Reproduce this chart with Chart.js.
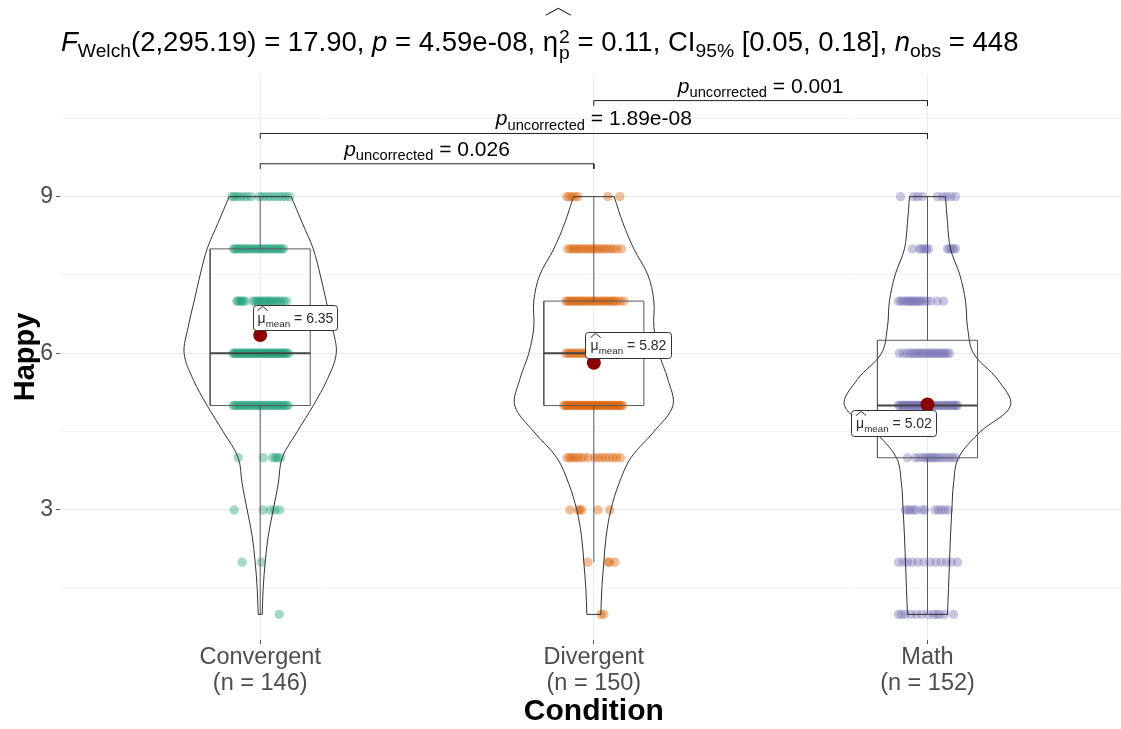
<!DOCTYPE html>
<html><head><meta charset="utf-8">
<script src="https://cdn.jsdelivr.net/npm/chart.js@4.4.0/dist/chart.umd.min.js"></script>
<style>html,body{margin:0;padding:0;background:#fff}#wrap{width:1121px;height:729px}</style>
</head><body><div id="wrap"><canvas id="c" width="1121" height="729"></canvas></div>
<script>
// ---------------- data ----------------
const categories = ['Convergent', 'Divergent', 'Math'];
const groupN = [146, 150, 152];
const groupColors = ['27,158,119', '217,95,2', '117,112,179'];
const levels = [1, 2, 3, 4, 5, 6, 7, 8, 9];

// jittered x offsets of the raw points, one list per Happy level 1..9
const convergentJitter = [
  [0.057],
  [-0.054, 0.003],
  [-0.078, 0.009, 0.031, 0.044, 0.058],
  [-0.066, 0.009, 0.037, 0.046, 0.052, 0.061],
  [-0.081,-0.076,-0.071,-0.064,-0.059,-0.054,-0.048,-0.043,-0.036,-0.031,-0.026,-0.019,-0.013,-0.008,-0.003,0.004,0.009,0.015,0.021,0.027,0.032,0.039,0.044,0.05,0.055,0.061,0.066,0.072,0.078,0.084],
  [-0.082,-0.078,-0.073,-0.07,-0.064,-0.06,-0.055,-0.051,-0.047,-0.042,-0.037,-0.033,-0.029,-0.024,-0.019,-0.015,-0.011,-0.006,-0.002,0.003,0.008,0.012,0.017,0.021,0.026,0.03,0.035,0.04,0.044,0.049,0.053,0.058,0.062,0.067,0.071,0.075,0.08,0.085],
  [-0.07,-0.066,-0.06,-0.056,-0.05,-0.044,-0.021,-0.015,-0.009,-0.004,0.002,0.008,0.013,0.019,0.025,0.03,0.036,0.043,0.049,0.056,0.063,0.071,0.079],
  [-0.08,-0.075,-0.07,-0.063,-0.057,-0.051,-0.044,-0.038,-0.031,-0.025,-0.018,-0.012,-0.005,0.001,0.007,0.013,0.02,0.026,0.032,0.039,0.045,0.051,0.058,0.064,0.07],
  [-0.085,-0.078,-0.07,-0.061,-0.05,-0.04,-0.027,-0.002,0.008,0.02,0.031,0.043,0.055,0.066,0.077,0.088]
];
const divergentJitter = [
  [0.021, 0.03],
  [-0.018, 0.042, 0.047, 0.063],
  [-0.072, -0.047, -0.042, -0.036, 0.012, 0.048],
  [-0.08,-0.073,-0.066,-0.058,-0.049,-0.041,-0.03,-0.017,0.002,0.013,0.024,0.034,0.046,0.057,0.068,0.08],
  [-0.09,-0.086,-0.082,-0.077,-0.073,-0.068,-0.063,-0.059,-0.055,-0.05,-0.046,-0.041,-0.037,-0.033,-0.028,-0.024,-0.019,-0.015,-0.01,-0.006,-0.002,0.003,0.007,0.012,0.016,0.02,0.025,0.029,0.034,0.038,0.043,0.047,0.051,0.056,0.06,0.065,0.069,0.073,0.078,0.082,0.087],
  [-0.084,-0.078,-0.071,-0.064,-0.058,-0.051,-0.044,-0.037,-0.03,-0.023,-0.015,-0.008,-0.001,0.006,0.013,0.02,0.027,0.034,0.041,0.048,0.055,0.062,0.069,0.076,0.083],
  [-0.084,-0.079,-0.073,-0.067,-0.062,-0.056,-0.05,-0.044,-0.038,-0.033,-0.027,-0.021,-0.015,-0.009,-0.003,0.003,0.009,0.015,0.021,0.027,0.033,0.039,0.045,0.051,0.057,0.063,0.069,0.079,0.09],
  [-0.078,-0.07,-0.062,-0.055,-0.047,-0.04,-0.032,-0.024,-0.017,-0.009,-0.001,0.007,0.015,0.023,0.031,0.04,0.049,0.058,0.069,0.083],
  [-0.081,-0.074,-0.066,-0.057,-0.048,0.042,0.078]
];
const mathJitter = [
  [-0.087,-0.078,-0.066,-0.05,-0.033,-0.017,0.002,0.018,0.028,0.036,0.051,0.078],
  [-0.087,-0.072,-0.06,-0.046,-0.029,-0.011,0.008,0.025,0.041,0.057,0.072,0.09],
  [-0.066,-0.058,-0.051,-0.042,-0.034,-0.016,-0.008,0.023,0.033,0.042,0.052,0.063],
  [-0.06,-0.036,-0.025,-0.013,-0.005,0.003,0.008,0.015,0.021,0.028,0.036,0.045,0.055,0.064,0.075,0.084],
  [-0.087,-0.083,-0.078,-0.074,-0.07,-0.066,-0.062,-0.058,-0.054,-0.05,-0.046,-0.042,-0.038,-0.034,-0.03,-0.026,-0.022,-0.018,-0.014,-0.01,-0.006,-0.002,0.003,0.008,0.013,0.018,0.024,0.029,0.035,0.041,0.046,0.052,0.057,0.062,0.067,0.072,0.077,0.082,0.086,0.09],
  [-0.084,-0.072,-0.061,-0.052,-0.045,-0.038,-0.031,-0.024,-0.018,-0.012,-0.005,0.002,0.008,0.014,0.02,0.026,0.033,0.04,0.046,0.052,0.059,0.066],
  [-0.087,-0.08,-0.073,-0.066,-0.06,-0.055,-0.05,-0.045,-0.04,-0.035,-0.03,-0.024,-0.018,-0.01,-0.002,0.01,0.03,0.048],
  [-0.045,-0.024,-0.018,-0.01,-0.003,0.003,0.06,0.066,0.072,0.078,0.084],
  [-0.081,-0.042,-0.03,-0.015,0.03,0.045,0.057,0.07,0.084]
];

// violin half-widths (x units) at Happy = 1, 1.5, ..., 9
const violinY = [1,1.5,2,2.5,3,3.5,4,4.5,5,5.5,6,6.5,7,7.5,8,8.5,9];
const convergentHalfWidth = [0.006,0.009,0.015,0.024,0.039,0.054,0.066,0.111,0.159,0.201,0.228,0.216,0.198,0.180,0.159,0.126,0.093];
const divergentHalfWidth  = [0.021,0.024,0.030,0.037,0.051,0.075,0.111,0.180,0.237,0.222,0.195,0.180,0.180,0.162,0.120,0.087,0.061];
const mathHalfWidth       = [0.060,0.063,0.066,0.069,0.073,0.078,0.093,0.159,0.249,0.210,0.138,0.120,0.114,0.097,0.069,0.060,0.054];

// box plot statistics
const boxQ1 = [5, 5, 4];
const boxMedian = [6, 6, 5];
const boxQ3 = [8, 7, 6.25];
const whiskerLow = [1, 2, 1];
const whiskerHigh = [9, 9, 9];
const groupMeans = [6.35, 5.82, 5.02];

// pairwise comparisons
const pairFrom = [1, 1, 2];
const pairTo = [2, 3, 3];
const pairY = [9.63, 10.21, 10.84];
const pairP = ['0.026', '1.89e-08', '0.001'];

const yMajorTicks = [3, 6, 9];
const yMinorTicks = [1.5, 4.5, 7.5, 10.5];

// ---------------- drawing ----------------
const FONT = '"Liberation Sans", Arial, Helvetica, sans-serif';
Chart.defaults.font.family = FONT;

const jitters = [convergentJitter, divergentJitter, mathJitter];
const halfWidths = [convergentHalfWidth, divergentHalfWidth, mathHalfWidth];
const BOX_HW = 0.15;
const datasets = [];
const lineDs = (data, color, width, order, tension) => ({
  type: 'scatter', data, showLine: true, borderColor: color, borderWidth: width,
  pointRadius: 0, fill: false, tension: tension || 0, order
});

categories.forEach((c, gi) => {
  const g = gi + 1;
  const pts = [];
  jitters[gi].forEach((offs, li) => offs.forEach(o => pts.push({ x: g + o, y: levels[li] })));
  datasets.push({ type: 'scatter', data: pts, pointRadius: 4.7, pointBorderWidth: 0,
    backgroundColor: `rgba(${groupColors[gi]},0.4)`, borderColor: 'rgba(0,0,0,0)', order: 10 });
  const hw = halfWidths[gi];
  const last = violinY.length - 1;
  datasets.push(lineDs(violinY.map((y, i) => ({ x: g + hw[i], y })), '#333', 1, 8, 0.35));
  datasets.push(lineDs(violinY.map((y, i) => ({ x: g - hw[i], y })), '#333', 1, 8, 0.35));
  datasets.push(lineDs([{ x: g - hw[last], y: violinY[last] }, { x: g + hw[last], y: violinY[last] }], '#333', 1, 8));
  datasets.push(lineDs([{ x: g - hw[0], y: violinY[0] }, { x: g + hw[0], y: violinY[0] }], '#333', 1, 8));
  // box
  datasets.push(lineDs([{ x: g - BOX_HW, y: boxQ1[gi] }, { x: g + BOX_HW, y: boxQ1[gi] }, { x: g + BOX_HW, y: boxQ3[gi] },
    { x: g - BOX_HW, y: boxQ3[gi] }, { x: g - BOX_HW, y: boxQ1[gi] }], '#5c5c5c', 1, 6));
  datasets.push(lineDs([{ x: g, y: boxQ3[gi] }, { x: g, y: whiskerHigh[gi] }], '#5c5c5c', 1, 6));
  datasets.push(lineDs([{ x: g, y: whiskerLow[gi] }, { x: g, y: boxQ1[gi] }], '#5c5c5c', 1, 6));
  datasets.push(lineDs([{ x: g - BOX_HW, y: boxMedian[gi] }, { x: g + BOX_HW, y: boxMedian[gi] }], '#444', 2, 5));
});
pairFrom.forEach((a, i) => {
  const y = pairY[i];
  datasets.push(lineDs([{ x: a, y: y - 0.1 }, { x: a, y }, { x: pairTo[i], y }, { x: pairTo[i], y: y - 0.1 }], '#222', 1, 4));
});
datasets.push({ type: 'scatter', data: groupMeans.map((m, i) => ({ x: i + 1, y: m })), pointRadius: 7,
  backgroundColor: '#8b0000', borderColor: '#8b0000', pointBorderWidth: 0, order: 1 });

// rich text helpers
function pFont(p, size) {
  const s = (p.sub || p.sup) ? size * 0.7 : size;
  return `${p.it ? 'italic ' : ''}${s}px ${FONT}`;
}
function measureParts(ctx, parts, size) {
  let w = 0;
  for (const p of parts) {
    if (p.hatsym) {
      ctx.font = `${size}px ${FONT}`;
      p._ew = ctx.measureText(p.hatsym).width;
      p._w = p._ew;
      if (p.supsub) { ctx.font = `${size * 0.7}px ${FONT}`; p._w += Math.max(ctx.measureText(p.supsub[0]).width, ctx.measureText(p.supsub[1]).width) + 1; }
    } else { ctx.font = pFont(p, size); p._w = ctx.measureText(p.t).width; }
    w += p._w;
  }
  return w;
}
function drawHat(ctx, x0, x1, yBase, h) {
  ctx.save(); ctx.strokeStyle = ctx.fillStyle; ctx.lineWidth = 1;
  ctx.beginPath(); ctx.moveTo(x0, yBase); ctx.lineTo((x0 + x1) / 2, yBase - h); ctx.lineTo(x1, yBase); ctx.stroke(); ctx.restore();
}
function drawParts(ctx, parts, x, y, size, opt) {
  let cx = x;
  ctx.textAlign = 'left'; ctx.textBaseline = 'alphabetic';
  for (const p of parts) {
    if (p.hatsym) {
      ctx.font = `${size}px ${FONT}`;
      ctx.fillText(p.hatsym, cx, y);
      if (p.supsub) {
        ctx.font = `${size * 0.7}px ${FONT}`;
        ctx.fillText(p.supsub[0], cx + p._ew + 1, y - size * 0.3);
        ctx.fillText(p.supsub[1], cx + p._ew + 1, y + size * 0.3);
        drawHat(ctx, cx + 3, cx + p._w + 1, y - size * 1.3, size * 0.25);
      } else {
        drawHat(ctx, cx, cx + p._ew + 2, y - size * 0.85, size * 0.3);
      }
    } else {
      ctx.font = pFont(p, size);
      ctx.fillText(p.t, cx, y + (p.sub ? size * (opt && opt.subDy || 0.24) : 0));
    }
    cx += p._w;
  }
}

const titleParts = [
  { t: 'F', it: 1 }, { t: 'Welch', sub: 1 }, { t: '(2,295.19) = 17.90, ' }, { t: 'p', it: 1 },
  { t: ' = 4.59e-08, ' }, { hatsym: 'η', supsub: ['2', 'p'] }, { t: ' = 0.11, CI' }, { t: '95%', sub: 1 },
  { t: ' [0.05, 0.18], ' }, { t: 'n', it: 1 }, { t: 'obs', sub: 1 }, { t: ' = 448' }
];
const TITLE_WIDTH = 958;

// label boxes for means: offset of box left/top from the mean point (px)
const meanLabelBox = [{ dx: -7, dy: -30, w: 84, h: 25 }, { dx: -9, dy: -31, w: 86, h: 26 }, { dx: -76, dy: 6, w: 85, h: 26 }];

const textPlugin = {
  id: 'texts',
  afterDatasetsDraw(chart) {
    const ctx = chart.ctx, xs = chart.scales.x, ys = chart.scales.y;
    // mean labels
    groupMeans.forEach((m, i) => {
      const px = xs.getPixelForValue(i + 1), py = ys.getPixelForValue(m);
      const b = meanLabelBox[i];
      const L = Math.round(px + b.dx) + 0.5, T = Math.round(py + b.dy) + 0.5;
      ctx.save();
      ctx.beginPath(); ctx.roundRect(L, T, b.w, b.h, 3);
      ctx.fillStyle = '#fff'; ctx.fill(); ctx.strokeStyle = '#333'; ctx.lineWidth = 1; ctx.stroke();
      ctx.fillStyle = '#2b2b2b';
      const parts = [{ hatsym: 'μ' }, { t: 'mean', sub: 1 }, { t: ' = ' + m.toFixed(2) }];
      const w = measureParts(ctx, parts, 14);
      drawParts(ctx, parts, L + (b.w - w) / 2, T + 17, 14, { subDy: 0.3 });
      ctx.restore();
    });
    // comparison labels
    pairFrom.forEach((a, i) => {
      const cx = xs.getPixelForValue((a + pairTo[i]) / 2), py = ys.getPixelForValue(pairY[i]);
      const parts = [{ t: 'p', it: 1 }, { t: 'uncorrected', sub: 1 }, { t: ' = ' + pairP[i] }];
      ctx.save(); ctx.fillStyle = '#000';
      const w = measureParts(ctx, parts, 21);
      drawParts(ctx, parts, cx - w / 2, py - 8, 21, { subDy: 0.22 });
      ctx.restore();
    });
  },
  afterDraw(chart) {
    const ctx = chart.ctx, ca = chart.chartArea;
    ctx.save(); ctx.fillStyle = '#000';
    const w0 = measureParts(ctx, titleParts, 24);
    const ts = 24 * TITLE_WIDTH / w0;
    measureParts(ctx, titleParts, ts);
    drawParts(ctx, titleParts, 61, 51, ts, { subDy: 0.22 });
    // axis titles
    ctx.font = `bold 30px ${FONT}`; ctx.textAlign = 'center'; ctx.textBaseline = 'middle';
    ctx.fillText('Condition', (ca.left + chart.scales.x.getPixelForValue(3.6)) / 2, 712);
    ctx.translate(26, 357); ctx.rotate(-Math.PI / 2);
    ctx.font = `bold 29px ${FONT}`;
    ctx.fillText('Happy', 0, 0);
    ctx.restore();
  }
};

const allYTicks = [...yMinorTicks, ...yMajorTicks].sort((a, b) => a - b);
new Chart(document.getElementById('c'), {
  type: 'scatter',
  data: { datasets },
  options: {
    responsive: false, animation: false, devicePixelRatio: 1,
    layout: { autoPadding: false, padding: { top: 75, right: 0, left: 0, bottom: 0 } },
    plugins: { legend: { display: false }, tooltip: { enabled: false }, title: { display: false } },
    scales: {
      x: {
        type: 'linear', min: 0.4, max: 3.58,
        afterBuildTicks: a => { a.ticks = categories.map((c, i) => ({ value: i + 1 })); },
        afterFit: a => { a.height = 89; },
        ticks: {
          callback: v => [categories[v - 1], `(n = ${groupN[v - 1]})`],
          font: { size: 23.5, lineHeight: 1.13 }, color: '#4d4d4d', padding: 0, maxRotation: 0, autoSkip: false
        },
        grid: { color: '#ebebeb', tickColor: '#555', tickLength: 4 },
        border: { display: false }
      },
      y: {
        min: 0.51, max: 11.33,
        afterBuildTicks: a => { a.ticks = allYTicks.map(v => ({ value: v })); },
        afterFit: a => { a.width = 60; },
        ticks: {
          callback: v => yMajorTicks.includes(v) ? String(v) : '',
          font: { size: 23 }, color: '#4d4d4d', padding: 3, autoSkip: false
        },
        grid: {
          color: c => yMajorTicks.includes(c.tick.value) ? '#ebebeb' : '#f3f3f3',
          tickColor: c => yMajorTicks.includes(c.tick.value) ? '#555' : 'rgba(0,0,0,0)',
          tickLength: 4
        },
        border: { display: false }
      }
    }
  },
  plugins: [textPlugin]
});
</script></body></html>
